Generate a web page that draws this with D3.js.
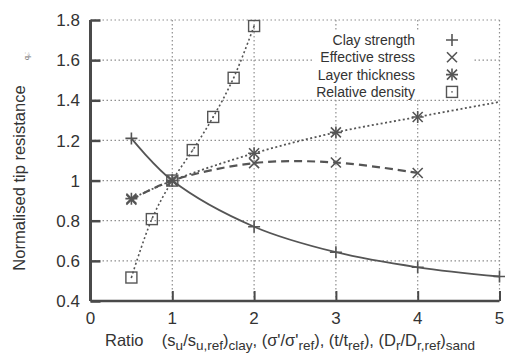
<!DOCTYPE html>
<html>
<head>
<meta charset="utf-8">
<script src="https://cdn.jsdelivr.net/npm/d3@7"></script>
<style>
  body { margin: 0; background: #fff; }
  svg { display: block; font-family: "Liberation Sans", Arial, sans-serif; }
</style>
</head>
<body>
<div class="chart"></div>
<script>
// values
const xTicks = [0, 1, 2, 3, 4, 5];
const yTicks = [0.4, 0.6, 0.8, 1, 1.2, 1.4, 1.6, 1.8];

const clayX = [0.5, 1, 2, 3, 4, 5];
const clayY = [1.21, 1.0, 0.77, 0.643, 0.568, 0.522];

const stressX = [0.5, 1, 2, 3, 4];
const stressY = [0.905, 1.0, 1.087, 1.09, 1.038];

const layerX = [0.5, 1, 2, 3, 4];
const layerY = [0.91, 1.0, 1.136, 1.24, 1.317];
// the dotted line carries on to the right edge without a marker
const layerTailX = [5];
const layerTailY = [1.392];

const densityX = [0.5, 0.75, 1, 1.25, 1.5, 1.75, 2];
const densityY = [0.517, 0.808, 1.0, 1.152, 1.317, 1.512, 1.77];

const legendNames = ["Clay strength", "Effective stress", "Layer thickness", "Relative density"];

const width = 505;
const height = 356;
const ink = "#4a4a4a";
const txt = "#333";

const svg = d3.select("div.chart")
    .append("svg")
    .attr("width", width)
    .attr("height", height);

const x = d3.scaleLinear().domain([0, 5]).range([90.5, 499.5]);
const y = d3.scaleLinear().domain([0.4, 1.8]).range([301, 20]);

// dotted grid
svg.append("g")
    .selectAll("line")
    .data(xTicks.slice(1))
    .enter()
    .append("line")
    .attr("x1", d => x(d)).attr("x2", d => x(d))
    .attr("y1", y(1.8)).attr("y2", y(0.4))
    .attr("stroke", "#8f8f8f").attr("stroke-width", 1.2)
    .attr("stroke-dasharray", "1.5,2.5");

svg.append("g")
    .selectAll("line")
    .data(yTicks.slice(1))
    .enter()
    .append("line")
    .attr("x1", x(0)).attr("x2", x(5))
    .attr("y1", d => y(d)).attr("y2", d => y(d))
    .attr("stroke", "#8f8f8f").attr("stroke-width", 1.2)
    .attr("stroke-dasharray", "1.5,2.5");

// axes, ticks pointing inward
const yAxis = svg.append("g")
    .attr("transform", `translate(${x(0)},0)`)
    .call(d3.axisRight(y).tickValues(yTicks).tickSize(10).tickFormat(""));
yAxis.select(".domain").attr("stroke", ink).attr("stroke-width", 3).attr("d", `M0,${y(1.8)}V${y(0.4)}`);
yAxis.selectAll(".tick line").attr("stroke", ink).attr("stroke-width", 2.5);

const xAxis = svg.append("g")
    .attr("transform", `translate(0,${y(0.4)})`)
    .call(d3.axisTop(x).tickValues(xTicks).tickSize(10).tickFormat(""));
xAxis.select(".domain").attr("stroke", ink).attr("stroke-width", 2.5).attr("d", `M${x(0)},0H${x(5)}`);
xAxis.selectAll(".tick line").attr("stroke", ink).attr("stroke-width", 2);

// tick labels
svg.append("g")
    .selectAll("text")
    .data(yTicks)
    .enter()
    .append("text")
    .attr("x", 80)
    .attr("y", d => y(d))
    .attr("dy", "0.36em")
    .attr("text-anchor", "end")
    .attr("font-size", 17)
    .attr("fill", txt)
    .text(d => d3.format("")(d));

svg.append("g")
    .selectAll("text")
    .data(xTicks)
    .enter()
    .append("text")
    .attr("x", d => x(d))
    .attr("y", 324)
    .attr("text-anchor", "middle")
    .attr("font-size", 17)
    .attr("fill", txt)
    .text(d => d);

// axis titles
svg.append("text")
    .attr("transform", "translate(25,178) rotate(-90)")
    .attr("text-anchor", "middle")
    .attr("font-size", 16.5)
    .attr("fill", txt)
    .text("Normalised tip resistance");

svg.append("text")
    .attr("transform", "translate(29,56) rotate(-90)")
    .attr("text-anchor", "middle")
    .attr("font-size", 7)
    .attr("fill", "#666")
    .text("q꜀:");

const xl = svg.append("text")
    .attr("x", 105)
    .attr("y", 346)
    .attr("font-size", 16.5)
    .attr("fill", txt);
const sub = (s) => xl.append("tspan").attr("font-size", 13.5).attr("dy", 4).text(s);
const nor = (s) => xl.append("tspan").attr("font-size", 16.5).attr("dy", -4).text(s);
xl.append("tspan").text("Ratio\u00a0\u00a0\u00a0\u00a0(s");
sub("u"); nor("/s"); sub("u,ref"); nor(")"); sub("clay");
nor(", (σ'/σ'"); sub("ref"); nor("), (t/t"); sub("ref"); nor("), (D");
sub("r"); nor("/D"); sub("r,ref"); nor(")"); sub("sand");

// series
const series = [
    { xs: clayX, ys: clayY, dash: null, w: 1.8, sym: "plus" },
    { xs: stressX, ys: stressY, dash: "8,5", w: 2.2, sym: "cross" },
    { xs: layerX.concat(layerTailX), ys: layerY.concat(layerTailY), dash: "2,2.5", w: 1.8, sym: "star", n: layerX.length },
    { xs: densityX, ys: densityY, dash: "2,2.5", w: 1.6, sym: "box" }
];

const line = d3.line()
    .x(d => x(d[0]))
    .y(d => y(d[1]))
    .curve(d3.curveCatmullRom.alpha(0.5));

function drawSymbol(g, kind, cx, cy) {
    const s = g.append("g").attr("transform", `translate(${cx},${cy})`)
        .attr("stroke", "#555").attr("fill", "none").attr("stroke-width", 1.6);
    if (kind === "plus" || kind === "star") {
        s.append("path").attr("d", "M-6,0H6M0,-6V6");
    }
    if (kind === "cross" || kind === "star") {
        s.append("path").attr("d", "M-5,-5L5,5M-5,5L5,-5");
    }
    if (kind === "box") {
        s.append("rect").attr("x", -5.5).attr("y", -5.5).attr("width", 11).attr("height", 11)
            .attr("stroke-width", 1.4);
        s.append("circle").attr("r", 0.8).attr("fill", "#555").attr("stroke", "none");
    }
}

series.forEach(sr => {
    const pts = sr.xs.map((v, i) => [v, sr.ys[i]]);
    svg.append("path")
        .datum(pts)
        .attr("d", line)
        .attr("fill", "none")
        .attr("stroke", "#555")
        .attr("stroke-width", sr.w)
        .attr("stroke-dasharray", sr.dash);
});

series.forEach(sr => {
    const g = svg.append("g");
    const n = sr.n || sr.xs.length;
    sr.xs.slice(0, n).forEach((v, i) => drawSymbol(g, sr.sym, x(v), y(sr.ys[i])));
});

// legend
const lg = svg.append("g");
lg.append("rect")
    .attr("x", 313).attr("y", 32).attr("width", 160).attr("height", 67)
    .attr("fill", "#fff");
legendNames.forEach((name, i) => {
    const cy = 40 + i * 17.3;
    lg.append("text")
        .attr("x", 415).attr("y", cy).attr("dy", "0.36em")
        .attr("text-anchor", "end")
        .attr("font-size", 14)
        .attr("fill", txt)
        .text(name);
    drawSymbol(lg, series[i].sym, 452, cy);
});
</script>
</body>
</html>
